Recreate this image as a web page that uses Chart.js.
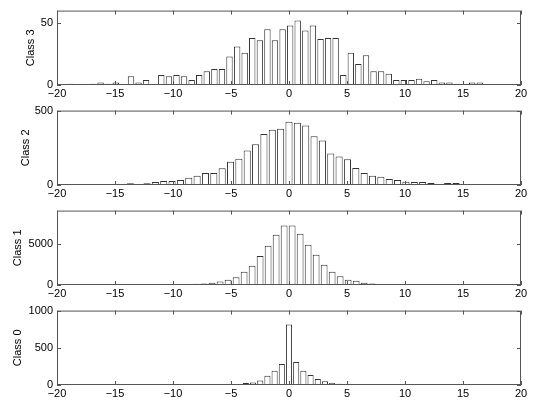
<!DOCTYPE html>
<html>
<head>
<meta charset="utf-8">
<script src="https://cdn.jsdelivr.net/npm/chart.js@4/dist/chart.umd.min.js"></script>
<style>
  body { margin: 0; background: #fff; }
  canvas { position: absolute; left: 0; }
</style>
</head>
<body>
<canvas id="c3" width="536" height="100" style="top:0"></canvas>
<canvas id="c2" width="536" height="100" style="top:100px"></canvas>
<canvas id="c1" width="536" height="100" style="top:200px"></canvas>
<canvas id="c0" width="536" height="100" style="top:300px"></canvas>
<script>
// bin centres and counts

// class 3
let centers3 = [-18.85, -18.20, -17.54, -16.89, -16.24, -15.58, -14.93, -14.28, -13.62, -12.97,
  -12.32, -11.66, -11.01, -10.35, -9.70, -9.05, -8.39, -7.74, -7.09, -6.43,
  -5.78, -5.13, -4.47, -3.82, -3.17, -2.51, -1.86, -1.21, -0.55, 0.10,
  0.75, 1.41, 2.06, 2.72, 3.37, 4.02, 4.68, 5.33, 5.98, 6.64,
  7.29, 7.94, 8.60, 9.25, 9.90, 10.56, 11.21, 11.86, 12.52, 13.17,
  13.83, 14.48, 15.13, 15.79, 16.44];
let counts3 = [1, 0, 0, 1, 2, 1, 2, 0, 7, 2,
  4, 0, 8, 7, 8, 7, 4, 8, 11, 13,
  13, 23, 31, 26, 38, 36, 45, 36, 45, 48,
  52, 44, 48, 37, 38, 38, 8, 26, 17, 24,
  11, 11, 9, 4, 4, 4, 5, 3, 4, 2,
  2, 1, 0, 2, 2];

// class 2
let centers2 = [-18.0, -17.28, -16.56, -15.84, -15.12, -14.4, -13.68, -12.96, -12.24, -11.52,
  -10.8, -10.08, -9.36, -8.64, -7.92, -7.2, -6.48, -5.76, -5.04, -4.32,
  -3.6, -2.88, -2.16, -1.44, -0.72, 0, 0.72, 1.44, 2.16, 2.88,
  3.6, 4.32, 5.04, 5.76, 6.48, 7.2, 7.92, 8.64, 9.36, 10.08,
  10.8, 11.52, 12.24, 12.96, 13.68, 14.4, 15.12, 15.84, 16.56, 17.28,
  18.0, 18.72, 19.44];
let counts2 = [6, 6, 6, 6, 0, 6, 12, 6, 12, 20,
  27, 27, 33, 49, 62, 80, 80, 113, 157, 177,
  232, 274, 343, 372, 378, 425, 418, 400, 327, 299,
  212, 192, 173, 115, 80, 62, 55, 40, 33, 22,
  20, 20, 13, 7, 13, 13, 7, 7, 7, 7,
  0, 0, 7];

// class 1
let centers1 = [-11.46, -10.77, -10.08, -9.39, -8.70, -8.01, -7.32, -6.63, -5.94, -5.25,
  -4.56, -3.87, -3.18, -2.49, -1.80, -1.11, -0.42, 0.27, 0.96, 1.65,
  2.34, 3.03, 3.72, 4.41, 5.10, 5.79, 6.48, 7.17, 7.86, 8.55,
  9.24, 9.93, 10.62];
let counts1 = [40, 50, 70, 80, 100, 140, 180, 260, 420, 640,
  930, 1600, 2340, 3510, 4740, 6090, 7200, 7200, 6210, 4880,
  3670, 2440, 1610, 1050, 640, 500, 280, 180, 130, 120,
  80, 70, 40];

// class 0
let centers0 = [-14.26, -13.64, -13.02, -12.4, -11.78, -11.16, -10.54, -9.92, -9.3, -8.68,
  -8.06, -7.44, -6.82, -6.2, -5.58, -4.96, -4.34, -3.72, -3.1, -2.48,
  -1.86, -1.24, -0.62, 0, 0.62, 1.24, 1.86, 2.48, 3.1, 3.72,
  4.34, 4.96, 5.58, 6.2, 6.82, 7.44, 8.06, 8.68, 9.3, 9.92];
let counts0 = [3, 0, 0, 0, 0, 0, 0, 0, 0, 0,
  0, 3, 0, 3, 3, 3, 5, 27, 32, 60,
  124, 190, 283, 812, 310, 190, 135, 80, 52, 30,
  18, 10, 3, 3, 3, 3, 0, 0, 0, 3];

let xTicks = [-20, -15, -10, -5, 0, 5, 10, 15, 20];
let yTicks3 = [0, 50];
let yTicks2 = [0, 500];
let yTicks1 = [0, 5000];
let yTicks0 = [0, 500, 1000];

Chart.defaults.font.family = '"Liberation Sans", Arial, Helvetica, sans-serif';
Chart.defaults.font.size = 11;
Chart.defaults.color = '#000';

function minusSign(v) {
  return v < 0 ? '\u2212' + Math.abs(v) : String(v);
}

// matlab style frame with inward ticks on all four sides
const boxTicks = {
  id: 'boxTicks',
  afterDatasetsDraw(chart) {
    const ctx = chart.ctx;
    const a = chart.chartArea;
    const x = chart.scales.x;
    const y = chart.scales.y;
    ctx.save();
    ctx.strokeStyle = '#555';
    ctx.lineWidth = 1;
    ctx.beginPath();
    x.ticks.forEach(t => {
      const px = Math.round(x.getPixelForValue(t.value)) + 0.5;
      ctx.moveTo(px, a.bottom); ctx.lineTo(px, a.bottom - 4);
      ctx.moveTo(px, a.top); ctx.lineTo(px, a.top + 4);
    });
    y.ticks.forEach(t => {
      const py = Math.round(y.getPixelForValue(t.value)) + 0.5;
      ctx.moveTo(a.left, py); ctx.lineTo(a.left + 4, py);
      ctx.moveTo(a.right, py); ctx.lineTo(a.right - 4, py);
    });
    ctx.stroke();
    ctx.strokeRect(a.left + 0.5, a.top + 0.5, a.width - 1, a.height - 1);
    ctx.restore();
  }
};

function makeChart(id, centers, counts, yMax, yTicks, title, titleX) {
  const points = centers.map((c, i) => ({x: c, y: counts[i]}));
  return new Chart(document.getElementById(id), {
    type: 'bar',
    data: {
      datasets: [{
        data: points,
        backgroundColor: '#fff',
        borderColor: '#333',
        borderWidth: 1,
        barPercentage: 0.85,
        categoryPercentage: 1
      }]
    },
    options: {
      responsive: false,
      animation: false,
      devicePixelRatio: 1,
      layout: {padding: {top: 10, right: 15, left: 0, bottom: 0}},
      plugins: {legend: {display: false}, tooltip: {enabled: false}},
      scales: {
        x: {
          type: 'linear',
          offset: false,
          min: -20,
          max: 20,
          grid: {display: false, drawTicks: false},
          border: {display: false},
          afterBuildTicks: s => { s.ticks = xTicks.map(v => ({value: v})); },
          afterFit: s => { s.height = 15; },
          ticks: {padding: 2, maxRotation: 0, autoSkip: false, callback: v => minusSign(v)}
        },
        y: {
          min: 0,
          max: yMax,
          grid: {display: false, drawTicks: false},
          border: {display: false},
          afterBuildTicks: s => { s.ticks = yTicks.map(v => ({value: v})); },
          afterFit: s => { s.width = 57; },
          ticks: {padding: 4, callback: v => String(v)},
          title: {display: true, text: title, padding: {top: titleX - 6.6, bottom: 0}}
        }
      }
    },
    plugins: [boxTicks]
  });
}

makeChart('c3', centers3, counts3, 60, yTicks3, 'Class 3', 31);
makeChart('c2', centers2, counts2, 500, yTicks2, 'Class 2', 26);
makeChart('c1', centers1, counts1, 9000, yTicks1, 'Class 1', 18);
makeChart('c0', centers0, counts0, 1000, yTicks0, 'Class 0', 18);
</script>
</body>
</html>
